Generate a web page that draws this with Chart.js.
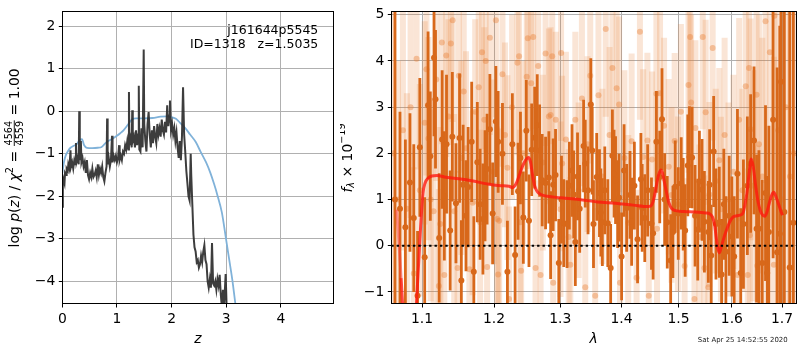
<!DOCTYPE html>
<html>
<head>
<meta charset="utf-8">
<script src="https://cdn.jsdelivr.net/npm/chart.js@4.4.1/dist/chart.umd.min.js"></script>
<style>
  html, body { margin: 0; padding: 0; background: #fff; }
  #wrap { position: relative; width: 800px; height: 350px; overflow: hidden; }
  canvas { position: absolute; top: 0; }
  #pz { left: 0; }
  #sp { left: 340px; }
</style>
</head>
<body>
<div id="wrap">
  <canvas id="pz" width="340" height="350"></canvas>
  <canvas id="sp" width="460" height="350"></canvas>
</div>
<script>
// ---------- redshift probability panel ----------
const zDark = [
  0.00,0.01,0.02,0.04,0.05,0.07,0.08,0.10,0.11,0.13,
  0.15,0.16,0.18,0.20,0.22,0.24,0.25,0.26,0.28,0.30,
  0.31,0.32,0.34,0.35,0.37,0.39,0.41,0.43,0.45,0.47,
  0.49,0.51,0.53,0.55,0.57,0.59,0.61,0.63,0.65,0.67,
  0.69,0.71,0.73,0.75,0.77,0.79,0.81,0.82,0.83,0.85,
  0.87,0.89,0.91,0.92,0.94,0.96,0.98,1.00,1.02,1.04,
  1.05,1.07,1.09,1.11,1.13,1.15,1.17,1.19,1.21,1.22,
  1.23,1.25,1.27,1.28,1.29,1.31,1.33,1.35,1.37,1.39,
  1.40,1.41,1.43,1.45,1.47,1.49,1.50,1.52,1.54,1.56,
  1.58,1.60,1.62,1.64,1.66,1.68,1.70,1.72,1.74,1.76,
  1.78,1.80,1.82,1.84,1.86,1.88,1.90,1.92,1.94,1.96,
  1.97,1.99,2.01,2.03,2.05,2.07,2.09,2.11,2.13,2.15,
  2.17,2.19,2.21,2.23,2.25,2.27,2.29,2.31,2.33,2.35,
  2.36,2.38,2.40,2.42,2.44,2.46,2.48,2.50,2.52,2.54,
  2.56,2.58,2.60,2.62,2.64,2.66,2.68,2.70,2.72,2.74,
  2.76,2.78,2.80,2.82,2.84,2.86,2.88,2.90,2.92,2.94,
  2.96,2.99,3.01
];
const logpDark = [
  -2.25,-1.75,-1.60,-1.70,-1.45,-1.50,-1.35,-1.40,-1.25,-1.35,
  -0.92,-1.30,-1.20,-1.35,-1.15,-1.25,-0.75,-1.20,-1.10,-1.25,
  0.00,-1.15,-0.70,-1.20,-1.10,-1.30,-1.20,-1.45,-1.15,-1.50,
  -1.60,-1.45,-1.55,-1.35,-1.55,-1.50,-1.40,-1.55,-1.25,-1.50,
  -1.35,-1.45,-1.30,-1.55,-1.65,-1.45,-1.30,-0.17,-1.25,-1.10,
  -1.30,-1.15,-0.58,-1.20,-1.05,-1.15,-1.05,-1.20,-1.10,-0.80,
  -1.15,-1.05,-1.15,-0.95,-1.00,-0.80,-0.90,-0.70,-0.90,0.45,
  -0.80,-0.65,-0.85,0.02,-0.70,-0.60,-0.85,-0.45,-0.80,-0.55,
  0.60,-0.90,-0.95,-0.40,-0.85,1.45,-0.30,-0.70,-0.95,-0.30,
  -0.02,-0.55,-0.85,-0.45,-0.75,-0.35,-0.60,-0.75,-0.30,-0.55,
  -0.40,-0.60,-0.20,-0.45,-0.55,-0.25,-0.50,0.14,-0.35,-0.10,
  0.25,-0.45,-0.30,-0.55,-0.40,-0.70,-0.50,-0.85,-1.10,-0.70,
  -1.15,-0.60,0.56,-0.55,-0.95,-1.40,-1.70,-2.00,-2.10,-1.00,
  -1.50,-2.20,-2.90,-3.20,-3.30,-3.55,-3.50,-3.68,-3.60,-3.40,
  -3.55,-3.30,-3.15,-3.50,-3.60,-4.00,-4.15,-3.95,-4.15,-3.10,
  -4.05,-4.10,-4.00,-4.20,-3.95,-4.10,-3.85,-4.30,-4.60,-4.20,
  -4.60,-3.83,-4.70
];
const zSmooth = [
  0.00,0.03,0.06,0.10,0.15,0.20,0.26,0.32,0.36,0.40,
  0.45,0.55,0.65,0.72,0.80,0.90,1.00,1.06,1.12,1.20,
  1.27,1.35,1.50,1.65,1.80,1.92,2.00,2.08,2.16,2.25,
  2.34,2.44,2.53,2.63,2.71,2.78,2.84,2.92,2.99,3.05,
  3.11,3.17,3.22
];
const logpSmooth = [
  -1.46,-1.20,-1.05,-0.95,-0.86,-0.82,-0.78,-0.68,-0.66,-0.80,
  -0.86,-0.87,-0.86,-0.84,-0.74,-0.66,-0.58,-0.52,-0.45,-0.32,
  -0.20,-0.17,-0.17,-0.16,-0.13,-0.12,-0.14,-0.18,-0.28,-0.40,
  -0.55,-0.72,-0.95,-1.20,-1.45,-1.72,-1.98,-2.38,-2.95,-3.45,
  -3.95,-4.55,-5.00
];
const zTicks = [0, 1, 2, 3, 4];
const logpTicks = [-4, -3, -2, -1, 0, 1, 2];
const zRange = [0, 4.96];
const logpRange = [-4.534, 2.336];

const fieldName = 'j161644p5545';
const objectId = 1318;
const zBest = '1.5035';
const chi2Num = '4564', chi2Den = '4559', chi2Red = '1.00';

// ---------- spectrum panel ----------
const darkWave = [
  1.0645,1.071,1.078,1.084,1.089,1.094,1.097,1.1035,1.108,1.111,
  1.116,1.118,1.123,1.127,1.130,1.133,1.138,1.141,1.146,1.151,
  1.1535,1.156,1.160,1.163,1.168,1.171,1.176,1.180,1.184,1.187,
  1.190,1.194,1.198,1.2027,1.206,1.2123,1.2196,1.2269,1.231,1.2354,
  1.239,1.2433,1.2478,1.2518,1.2559,1.2605,1.2644,1.268,1.272,1.2772,
  1.2823,1.285,1.289,1.2927,1.2978,1.302,1.3056,1.3108,1.3145,1.3187,
  1.3214,1.324,1.3275,1.331,1.3373,1.340,1.3445,1.349,1.3513,1.3534,
  1.3587,1.3632,1.3655,1.368,1.372,1.377,1.3818,1.3847,1.3875,1.390,
  1.3935,1.396,1.4002,1.4044,1.4088,1.4145,1.4173,1.422,1.4275,1.4333,
  1.4355,1.440,1.445,1.4517,1.4546,1.4604,1.4663,1.4703,1.475,1.4797,
  1.4858,1.4899,1.494,1.4995,1.5049,1.5085,1.5121,1.5169,1.520,1.5248,
  1.5303,1.5353,1.5384,1.5433,1.5477,1.5551,1.5575,1.5605,1.5651,1.5695,
  1.5758,1.5802,1.5845,1.5884,1.5948,1.600,1.6044,1.6108,1.6172,1.6225,
  1.6302,1.6367,1.6434,1.6485,1.6532,1.6598,1.6664,1.6698,1.6732,1.6818,
  1.690,1.6954,1.6981,1.7048,1.7159,1.7235
];
const darkFlux = [
  1.0,0.8,0.4,1.37,0.6,-1.08,2.13,-0.25,3.04,1.94,
  4.07,3.17,0.17,2.30,1.08,2.20,0.33,2.36,0.92,2.33,
  -0.75,1.32,0.65,1.27,2.25,-0.56,1.81,0.9,0.58,1.3,
  1.66,2.52,0.7,2.69,2.25,1.99,-0.56,2.2,-0.2,1.18,
  1.9,0.61,2.49,0.54,2.08,2.34,2.61,2.06,1.42,1.36,
  1.48,0.23,1.32,1.53,-0.37,1.0,0.49,0.47,1.3,1.63,
  1.11,0.08,1.5,0.80,2.16,1.78,1.2,3.06,2.06,0.47,
  1.49,1.14,0.72,0.51,1.2,0.49,-0.48,1.95,1.56,1.42,
  0.9,1.04,-0.23,1.63,0.82,1.1,0.52,1.3,0.14,1.44,
  0.82,0.6,1.2,0.48,0.27,2.25,1.49,2.74,1.0,0.51,
  -0.32,0.30,1.28,0.7,1.35,0.9,0.33,1.74,1.92,1.91,
  0.65,0.35,1.39,1.21,0.52,0.30,1.32,-0.21,2.04,0.47,
  0.51,-0.62,0.9,-0.13,0.65,0.2,-0.23,1.56,-0.59,0.47,
  1.30,1.78,2.28,0.37,0.37,-0.37,1.14,-0.59,0.3,2.73,
  -0.14,0.26,3.55,0.73,-0.47,0.5
];
const darkErr = [
  6.0,2.1,1.9,1.5,1.6,1.4,1.5,1.3,1.6,1.4,
  1.7,1.5,1.4,1.5,1.4,1.5,1.3,1.4,1.3,1.4,
  1.3,1.3,1.2,1.3,1.3,1.2,1.3,1.2,1.2,1.2,
  1.2,1.2,1.1,1.2,1.1,1.1,1.1,1.1,1.05,1.05,
  1.0,1.0,1.1,1.0,1.0,1.1,1.1,1.0,1.0,1.0,
  1.0,0.95,1.0,1.0,0.95,0.95,0.95,0.95,0.95,1.0,
  0.95,0.95,0.95,0.95,1.0,0.95,0.95,1.0,0.95,0.95,
  0.95,0.95,0.95,0.95,0.95,0.95,0.95,1.0,0.95,0.95,
  0.95,0.95,0.95,1.0,0.95,0.95,0.95,0.95,0.95,1.0,
  0.95,0.95,1.0,1.0,1.0,1.1,1.0,1.1,1.0,1.0,
  1.0,1.0,1.0,1.0,1.0,1.0,1.0,1.1,1.1,1.1,
  1.1,1.1,1.1,1.1,1.1,1.1,1.2,1.1,1.2,1.2,
  1.2,1.2,1.2,1.2,1.3,1.3,1.3,1.4,1.4,1.4,
  1.5,1.5,1.6,1.6,1.7,1.8,1.9,2.1,2.3,3.0,
  4.0,4.5,5.0,6.0,7.0,7.0
];
const lightWave = [
  1.0625,1.0684,1.0748,1.0800,1.0848,1.0890,1.0927,1.0970,1.1035,1.1058,
  1.1085,1.1115,1.1154,1.1190,1.1225,1.1245,1.1266,1.1300,1.1326,1.1356,
  1.1390,1.1414,1.1436,1.1482,1.1500,1.1535,1.1568,1.1600,1.1648,1.1694,
  1.1730,1.1780,1.1800,1.1827,1.1860,1.1880,1.1900,1.1940,1.1990,1.2027,
  1.2045,1.2060,1.2075,1.2123,1.2160,1.2196,1.2220,1.2265,1.2345,1.2369,
  1.2385,1.2400,1.2430,1.2484,1.2500,1.2552,1.2582,1.2618,1.2658,1.2695,
  1.2730,1.2772,1.2823,1.2850,1.2875,1.2890,1.2930,1.3004,1.3014,1.3030,
  1.3090,1.3134,1.3160,1.3240,1.3293,1.3346,1.3400,1.3437,1.3481,1.3562,
  1.3616,1.3680,1.3736,1.3800,1.3847,1.3918,1.3960,1.3975,1.4050,1.4115,
  1.4173,1.4258,1.4316,1.4372,1.4446,1.4470,1.4528,1.4604,1.4615,1.4668,
  1.4740,1.4823,1.4873,1.4930,1.4989,1.5043,1.5111,1.5182,1.5212,1.5230,
  1.5292,1.5310,1.5384,1.5446,1.5477,1.5500,1.5551,1.5570,1.5632,1.5690,
  1.5758,1.5789,1.5860,1.5935,1.6030,1.6108,1.6141,1.6205,1.6270,1.6310,
  1.6335,1.6350,1.6367,1.6420,1.6485,1.6500,1.6532,1.6600,1.6664,1.6752,
  1.6833,1.6845,1.6920,1.7000,1.7080,1.7165,1.7250
];
const lightFlux = [
  2.0,1.0,2.5,0.8,3.0,-0.6,4.05,1.2,2.66,3.82,
  2.32,1.0,0.75,3.6,-0.87,0.47,4.40,-0.63,4.12,2.8,
  4.38,4.88,0.75,-0.48,3.68,1.9,3.34,2.11,-0.51,0.93,
  2.9,3.43,0.51,4.19,2.73,4.0,-0.46,4.50,1.6,4.88,
  0.58,-0.62,0.54,3.71,2.4,1.69,-1.15,3.0,3.96,4.10,
  0.51,-0.54,2.0,3.66,4.49,3.52,4.52,-0.48,3.89,-0.63,
  1.8,4.16,2.8,2.83,4.10,-0.80,2.73,0.79,4.17,1.78,
  2.3,0.19,-0.41,2.73,1.2,3.19,-0.90,2.2,3.68,-1.08,
  3.26,1.5,4.69,2.4,3.85,3.41,3.06,-0.80,1.9,0.5,
  2.26,-0.69,4.63,1.92,2.28,-1.08,1.87,3.29,0.37,3.30,
  2.6,1.71,1.1,2.27,0.9,2.9,-0.44,3.48,4.52,3.10,
  -1.15,2.55,0.19,4.52,-0.48,2.89,-0.90,1.11,4.28,1.4,
  1.85,0.79,2.4,1.0,1.6,-0.63,2.73,1.2,3.45,-0.63,
  3.85,0.23,2.52,1.3,3.27,-0.43,2.2,1.5,4.86,4.19,
  -0.41,4.98,2.5,1.0,3.0,1.5,2.0
];
const lightErr = [
  4.0,3.0,2.6,2.5,2.4,2.3,2.4,2.3,2.2,2.3,
  2.2,2.2,2.2,2.2,2.1,2.1,2.2,2.1,2.2,2.1,
  2.2,2.2,2.1,2.1,2.1,2.1,2.1,2.1,2.0,2.0,
  2.0,2.0,2.0,2.1,2.0,2.0,2.0,2.1,2.0,2.1,
  2.0,2.0,2.0,2.0,2.0,2.0,2.0,2.0,2.0,2.0,
  2.0,2.0,2.0,2.0,2.0,2.0,2.0,1.9,2.0,1.9,
  1.9,2.0,1.9,1.9,1.9,1.9,1.9,1.9,1.9,1.9,
  1.9,1.9,1.9,1.9,1.9,1.9,1.9,1.9,1.9,1.9,
  1.9,1.9,1.9,1.9,1.9,1.9,1.9,1.9,1.9,1.9,
  1.9,1.9,1.9,1.9,1.9,1.9,1.9,1.9,1.9,1.9,
  1.9,1.9,1.9,1.9,1.9,1.9,1.9,1.9,1.9,1.9,
  1.9,1.9,2.0,2.0,2.0,2.0,2.0,2.0,2.0,2.0,
  2.0,2.0,2.1,2.1,2.1,2.2,2.2,2.2,2.3,2.3,
  2.4,2.3,2.4,2.5,2.6,2.6,2.8,3.0,3.5,3.8,
  4.5,5.0,5.0,5.0,5.0,5.0,5.0
];
const modelWave = [
  1.0725,1.0755,1.079,1.086,1.0905,1.0925,1.095,1.098,1.1013,1.104,
  1.108,1.113,1.120,1.130,1.150,1.170,1.190,1.210,1.222,1.227,
  1.232,1.237,1.242,1.247,1.251,1.254,1.257,1.260,1.264,1.270,
  1.280,1.300,1.330,1.360,1.390,1.420,1.447,1.452,1.456,1.460,
  1.464,1.468,1.471,1.475,1.479,1.483,1.488,1.495,1.510,1.530,
  1.550,1.558,1.563,1.567,1.570,1.573,1.576,1.579,1.584,1.590,
  1.596,1.602,1.610,1.618,1.622,1.626,1.630,1.634,1.638,1.642,
  1.646,1.651,1.656,1.661,1.665,1.669,1.674,1.679,1.683,1.688,
  1.693,1.697,1.701
];
const modelFlux = [
  -0.70,-1.60,-2.60,-2.80,-1.90,-1.26,-0.50,0.40,1.15,1.36,
  1.46,1.51,1.52,1.49,1.45,1.40,1.34,1.30,1.29,1.26,
  1.33,1.52,1.72,1.86,1.91,1.82,1.55,1.32,1.18,1.11,
  1.07,1.04,1.00,0.95,0.92,0.88,0.85,0.88,1.02,1.28,
  1.52,1.64,1.58,1.35,1.12,0.92,0.80,0.76,0.74,0.73,
  0.71,0.69,0.62,0.45,0.18,-0.05,-0.15,-0.05,0.15,0.35,
  0.52,0.62,0.65,0.67,0.72,0.92,1.20,1.60,1.88,1.70,
  1.35,0.98,0.76,0.66,0.64,0.72,0.92,1.10,1.16,1.05,
  0.90,0.77,0.66
];
const modelEdgeWave = [1.0665, 1.0685, 1.0705, 1.0725];
const modelEdgeFlux = [0.78, 0.35, -0.15, -0.70];
const waveTicks = [1.1, 1.2, 1.3, 1.4, 1.5, 1.6, 1.7];
const fluxTicks = [-1, 0, 1, 2, 3, 4, 5];
const waveRange = [1.0598, 1.729];
const fluxRange = [-1.26, 5.063];
const stamp = 'Sat Apr 25 14:52:55 2020';

// ---------- styling ----------
const FAMILY = '"DejaVu Sans", sans-serif';
const FS = 13.9;
Chart.defaults.font.family = FAMILY;
Chart.defaults.font.size = FS;
Chart.defaults.color = '#000';

const DARK = 'rgb(216,104,26)';
const LIGHT_BAR = 'rgba(232,126,50,0.2)';
const LIGHT_DOT = 'rgba(232,126,50,0.4)';

const minus = v => String(v).replace('-', '\u2212');

function axis(type, range, ticks, fmt, fitFn) {
  return {
    type,
    min: range[0],
    max: range[1],
    afterBuildTicks: s => { s.ticks = ticks.map(v => ({ value: v })); },
    afterFit: fitFn,
    ticks: { callback: fmt, padding: 3.5, autoSkip: false, maxRotation: 0, color: '#000', font: { size: FS } },
    grid: { color: '#b0b0b0', lineWidth: 1, tickLength: 3.5, tickColor: '#000', tickWidth: 1 },
    border: { display: false }
  };
}

// rotated axis label built from runs of text (supports super/subscripts and a fraction)
function drawVertical(ctx, runs, baseX, midY) {
  ctx.save();
  ctx.fillStyle = '#000';
  ctx.textBaseline = 'alphabetic';
  ctx.textAlign = 'left';
  let total = 0;
  for (const r of runs) {
    ctx.font = r.font;
    r.w = r.frac
      ? Math.max(ctx.measureText(r.frac[0]).width, ctx.measureText(r.frac[1]).width) + 2
      : ctx.measureText(r.text).width;
    total += r.w;
  }
  ctx.translate(baseX, midY);
  ctx.rotate(-Math.PI / 2);
  let x = -total / 2;
  for (const r of runs) {
    ctx.font = r.font;
    if (r.frac) {
      ctx.textAlign = 'center';
      ctx.fillText(r.frac[0], x + r.w / 2, -6.2);
      ctx.fillText(r.frac[1], x + r.w / 2, 4.9);
      ctx.fillRect(x + 0.5, -4.7, r.w - 1, 0.9);
      ctx.textAlign = 'left';
    } else {
      ctx.fillText(r.text, x, r.dy || 0);
    }
    x += r.w;
  }
  ctx.restore();
}

const fN = `${FS}px ${FAMILY}`;
const fI = `italic ${FS}px ${FAMILY}`;
const fS = `9.7px ${FAMILY}`;
const fSI = `italic 9.7px ${FAMILY}`;

const frame = {
  id: 'frame',
  afterDraw(chart) {
    const { ctx, chartArea: a } = chart;
    const l = Math.floor(a.left), t = Math.floor(a.top), r = Math.floor(a.right), b = Math.floor(a.bottom);
    ctx.save();
    ctx.strokeStyle = '#000';
    ctx.lineWidth = 1;
    ctx.strokeRect(l + 0.5, t + 0.5, r - l, b - t);
    ctx.restore();
  }
};

const pzText = {
  id: 'pzText',
  afterDraw(chart) {
    const { ctx, chartArea: a } = chart;
    drawVertical(ctx, [
      { text: 'log ', font: fN }, { text: 'p', font: fI }, { text: '(', font: fN },
      { text: 'z', font: fI }, { text: ')', font: fN }, { text: ' / ', font: fN },
      { text: '\u03c7', font: fI }, { text: '2', font: fS, dy: -6 },
      { text: ' = ', font: fN }, { frac: [chi2Num, chi2Den], font: fS },
      { text: ' = ' + chi2Red, font: fN }
    ], 18.5, (a.top + a.bottom) / 2);
    ctx.save();
    ctx.fillStyle = '#000';
    ctx.textAlign = 'right';
    ctx.textBaseline = 'alphabetic';
    ctx.font = `12.5px ${FAMILY}`;
    ctx.fillText(fieldName, a.right - 15, a.top + 22.2);
    ctx.fillText(`ID=${objectId}   z=${zBest}`, a.right - 15, a.top + 36.4);
    ctx.restore();
  }
};

const spText = {
  id: 'spText',
  afterDraw(chart) {
    const { ctx, chartArea: a } = chart;
    drawVertical(ctx, [
      { text: 'f', font: fI }, { text: '\u03bb', font: fSI, dy: 2.6 },
      { text: ' \u00d7 10', font: fN }, { text: '\u221219', font: fS, dy: -7 }
    ], 11.5, (a.top + a.bottom) / 2);
    ctx.save();
    ctx.fillStyle = '#222';
    ctx.textAlign = 'right';
    ctx.font = `6.95px ${FAMILY}`;
    ctx.fillText(stamp, 447.7, 341.8);
    ctx.restore();
  }
};

// ---------- left chart ----------
new Chart(document.getElementById('pz'), {
  type: 'line',
  data: {
    datasets: [
      {
        data: zDark.map((z, i) => ({ x: z, y: logpDark[i] })),
        borderColor: 'rgba(45,45,45,0.92)', borderWidth: 2, pointRadius: 0,
        order: 1, clip: 0
      },
      {
        data: zSmooth.map((z, i) => ({ x: z, y: logpSmooth[i] })),
        borderColor: 'rgb(128,178,217)', borderWidth: 1.8, pointRadius: 0,
        cubicInterpolationMode: 'monotone', order: 2, clip: 0
      }
    ]
  },
  options: {
    responsive: false, animation: false, devicePixelRatio: 1,
    layout: { padding: { left: 0, right: 6.7, top: 4.3, bottom: 0 } },
    plugins: { legend: { display: false }, tooltip: { enabled: false } },
    scales: {
      x: Object.assign(axis('linear', zRange, zTicks, v => minus(v), s => { s.height = 46; }), {
        title: { display: true, text: 'z', font: { size: FS, style: 'italic' }, padding: { top: 0, bottom: 2 } }
      }),
      y: axis('linear', logpRange, logpTicks, v => minus(v), s => { s.width = 62.3; })
    }
  },
  plugins: [frame, pzText]
});

// ---------- right chart ----------
function errorSegments(wave, flux, err) {
  const pts = [];
  wave.forEach((w, i) => {
    pts.push({ x: w, y: flux[i] - err[i] }, { x: w, y: flux[i] + err[i] }, { x: w, y: null });
  });
  return pts;
}
const pairs = (xs, ys) => xs.map((x, i) => ({ x, y: ys[i] }));

new Chart(document.getElementById('sp'), {
  type: 'line',
  data: {
    datasets: [
      {
        data: [{ x: waveRange[0], y: 0 }, { x: waveRange[1], y: 0 }],
        borderColor: '#000', borderWidth: 2, borderDash: [2.4, 3.0], pointRadius: 0, order: 1, clip: 0
      },
      {
        data: pairs(modelWave, modelFlux),
        borderColor: 'rgba(255,22,14,0.78)', borderWidth: 3, pointRadius: 0,
        cubicInterpolationMode: 'monotone', order: 2, clip: 0
      },
      {
        data: pairs(modelEdgeWave, modelEdgeFlux),
        borderColor: 'rgba(255,60,60,0.5)', borderWidth: 3, pointRadius: 0, order: 2, clip: 0
      },
      {
        data: pairs(darkWave, darkFlux), showLine: false,
        pointRadius: 3, pointBorderWidth: 0, pointBackgroundColor: DARK, order: 3, clip: 0
      },
      {
        data: errorSegments(darkWave, darkFlux, darkErr),
        borderColor: DARK, borderWidth: 2.8, borderCapStyle: 'butt', pointRadius: 0,
        spanGaps: false, segment: { borderColor: () => DARK }, order: 4, clip: 0
      },
      {
        data: pairs(lightWave, lightFlux), showLine: false,
        pointRadius: 3, pointBorderWidth: 0, pointBackgroundColor: LIGHT_DOT, order: 5, clip: 0
      },
      {
        data: errorSegments(lightWave, lightFlux, lightErr),
        borderColor: LIGHT_BAR, borderWidth: 6, borderCapStyle: 'butt', pointRadius: 0,
        spanGaps: false, segment: { borderColor: () => LIGHT_BAR }, order: 6, clip: 0
      }
    ]
  },
  options: {
    responsive: false, animation: false, devicePixelRatio: 1,
    layout: { padding: { left: 0, right: 1, top: 4.3, bottom: 0 } },
    plugins: { legend: { display: false }, tooltip: { enabled: false } },
    scales: {
      x: Object.assign(axis('logarithmic', waveRange, waveTicks, v => Number(v).toFixed(1), s => { s.height = 46; }), {
        title: { display: true, text: '\u03bb', font: { size: FS, style: 'italic' }, padding: { top: 0, bottom: 2 } }
      }),
      y: axis('linear', fluxRange, fluxTicks, v => minus(v), s => { s.width = 51.3; })
    }
  },
  plugins: [frame, spText]
});
</script>
</body>
</html>
